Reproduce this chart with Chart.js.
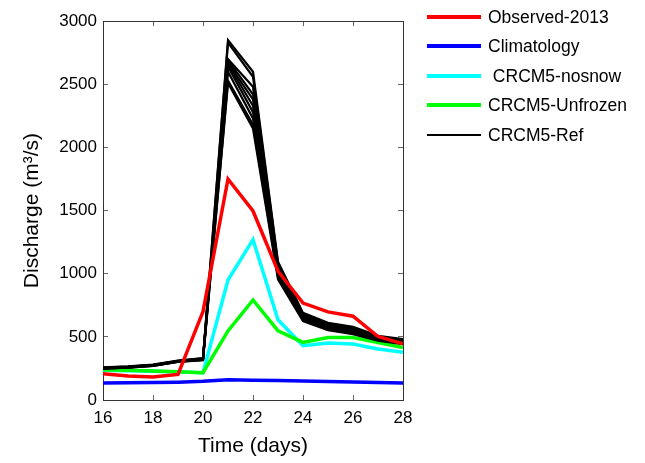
<!DOCTYPE html>
<html>
<head>
<meta charset="utf-8">
<script src="https://cdn.jsdelivr.net/npm/chart.js@4.4.1/dist/chart.umd.min.js"></script>
<style>
  html, body { margin: 0; padding: 0; background: #ffffff; }
  #wrap { position: relative; width: 645px; height: 463px; }
  canvas { position: absolute; left: 0; top: 0; }
  .leg { position: absolute; left: 0; top: 0; font-family: "Liberation Sans", Arial, sans-serif; font-size: 17.5px; color: #000; }
  .item { position: absolute; left: 427px; height: 20px; width: 210px; }
  .item .ln { position: absolute; left: 0; width: 54px; }
  .item .tx { position: absolute; left: 61px; top: 0; line-height: 20px; white-space: pre; }
</style>
</head>
<body>
<div id="wrap">
  <canvas id="c" width="645" height="463"></canvas>
  <div class="leg" id="legend"></div>
</div>
<script>
// ---- data ----
const days = [16, 17, 18, 19, 20, 21, 22, 23, 24, 25, 26, 27, 28];
const xTicks = [16, 18, 20, 22, 24, 26, 28];
const yTicks = [0, 500, 1000, 1500, 2000, 2500, 3000];

const observed2013 = [208, 190, 182, 203, 700, 1750, 1497, 1020, 768, 698, 664, 503, 445];
const climatology  = [135, 136, 138, 141, 148, 160, 157, 154, 150, 146, 142, 138, 135];
const nosnow       = [236, 232, 227, 222, 216, 950, 1270, 635, 430, 451, 443, 404, 378];
const unfrozen     = [240, 235, 229, 223, 216, 547, 792, 547, 456, 495, 495, 456, 416];

const ref1  = [258, 266, 280, 312, 332, 2850, 2600, 1095, 690, 612, 580, 508, 482];
const ref2  = [256, 264, 278, 310, 330, 2830, 2560, 1080, 682, 605, 573, 503, 476];
const ref3  = [255, 263, 277, 309, 328, 2700, 2480, 1065, 674, 598, 566, 498, 471];
const ref4  = [254, 262, 276, 308, 326, 2690, 2420, 1050, 667, 591, 560, 494, 466];
const ref5  = [253, 261, 275, 307, 325, 2670, 2380, 1035, 660, 585, 554, 490, 462];
const ref6  = [252, 260, 274, 306, 323, 2660, 2330, 1020, 653, 578, 548, 486, 458];
const ref7  = [251, 259, 273, 305, 321, 2640, 2280, 1005, 646, 571, 542, 482, 454];
const ref8  = [250, 258, 272, 304, 319, 2600, 2230, 990, 639, 565, 536, 478, 450];
const ref9  = [249, 257, 271, 303, 317, 2530, 2180, 972, 632, 558, 528, 473, 447];
const ref10 = [248, 256, 270, 302, 315, 2510, 2150, 955, 625, 552, 521, 469, 443];
const refMembers = [ref1, ref2, ref3, ref4, ref5, ref6, ref7, ref8, ref9, ref10];

const legendLabels = ['Observed-2013', 'Climatology', ' CRCM5-nosnow', 'CRCM5-Unfrozen', 'CRCM5-Ref'];
const legendColors = ['#ff0000', '#0000ff', '#00ffff', '#00ff00', '#000000'];
const legendWidths = [3.5, 3.5, 3.5, 3.5, 1.5];

// ---- build datasets ----
function pts(arr) { return days.map((d, i) => ({ x: d, y: arr[i] })); }

const datasets = [];
refMembers.forEach((m) => {
  datasets.push({ label: 'CRCM5-Ref', data: pts(m), borderColor: '#000000', borderWidth: 2.2, order: 1 });
});
datasets.push({ label: 'CRCM5-Unfrozen', data: pts(unfrozen), borderColor: '#00ff00', borderWidth: 3.5, order: 2 });
datasets.push({ label: 'CRCM5-nosnow', data: pts(nosnow), borderColor: '#00ffff', borderWidth: 3.5, order: 3 });
datasets.push({ label: 'Observed-2013', data: pts(observed2013), borderColor: '#ff0000', borderWidth: 3.5, order: 0 });
datasets.push({ label: 'Climatology', data: pts(climatology), borderColor: '#0000ff', borderWidth: 3.5, order: 5 });
datasets.forEach(d => { d.pointRadius = 0; d.pointHoverRadius = 0; d.tension = 0; d.fill = false; d.borderJoinStyle = 'miter'; });

const FONT = "'Liberation Sans', Arial, sans-serif";
const tickFont = { family: FONT, size: 17 };
const axisColor = '#333333';
const plainLabel = v => String(v);

const gridCommon = { drawOnChartArea: false, drawTicks: true, tickLength: -5, color: '#666666', lineWidth: 1 };

new Chart(document.getElementById('c'), {
  type: 'line',
  data: { datasets },
  options: {
    responsive: false,
    animation: false,
    events: [],
    layout: { padding: { left: 0, top: 16, right: 242, bottom: 0 } },
    plugins: { legend: { display: false }, tooltip: { enabled: false } },
    scales: {
      x: {
        type: 'linear', position: 'bottom', min: 16, max: 28,
        afterBuildTicks: s => { s.ticks = xTicks.map(v => ({ value: v })); },
        afterFit: s => { s.height = 63; },
        ticks: { font: tickFont, color: '#000', padding: 13, maxRotation: 0, autoSkip: false, callback: plainLabel },
        grid: gridCommon,
        border: { display: true, color: axisColor, width: 1 },
        title: { display: true, text: 'Time (days)', font: { family: FONT, size: 21 }, color: '#000', padding: { top: 0, bottom: 4 } }
      },
      x2: {
        type: 'linear', position: 'top', min: 16, max: 28,
        afterBuildTicks: s => { s.ticks = xTicks.map(v => ({ value: v })); },
        afterFit: s => { s.height = 0; },
        ticks: { display: false },
        grid: gridCommon,
        border: { display: true, color: axisColor, width: 1 }
      },
      y: {
        type: 'linear', position: 'left', min: 0, max: 3000,
        afterBuildTicks: s => { s.ticks = yTicks.map(v => ({ value: v })); },
        afterFit: s => { s.width = 103; },
        ticks: { font: tickFont, color: '#000', padding: 11, callback: plainLabel },
        grid: gridCommon,
        border: { display: true, color: axisColor, width: 1 },
        title: { display: true, text: 'Discharge (m³/s)', font: { family: FONT, size: 21 }, color: '#000', padding: { top: 20, bottom: 0 } }
      },
      y2: {
        type: 'linear', position: 'right', min: 0, max: 3000,
        afterBuildTicks: s => { s.ticks = yTicks.map(v => ({ value: v })); },
        afterFit: s => { s.width = 0; },
        ticks: { display: false },
        grid: gridCommon,
        border: { display: true, color: axisColor, width: 1 }
      }
    }
  }
});

// ---- legend (HTML text) ----
const legTops = [7, 36, 66, 95, 125];
const leg = document.getElementById('legend');
legendLabels.forEach((lab, i) => {
  const it = document.createElement('div');
  it.className = 'item';
  it.style.top = legTops[i] + 'px';
  const ln = document.createElement('div');
  ln.className = 'ln';
  ln.style.background = legendColors[i];
  ln.style.height = legendWidths[i] + 'px';
  ln.style.top = (10 - legendWidths[i] / 2) + 'px';
  const tx = document.createElement('div');
  tx.className = 'tx';
  tx.textContent = lab;
  it.appendChild(ln); it.appendChild(tx);
  leg.appendChild(it);
});
</script>
</body>
</html>
